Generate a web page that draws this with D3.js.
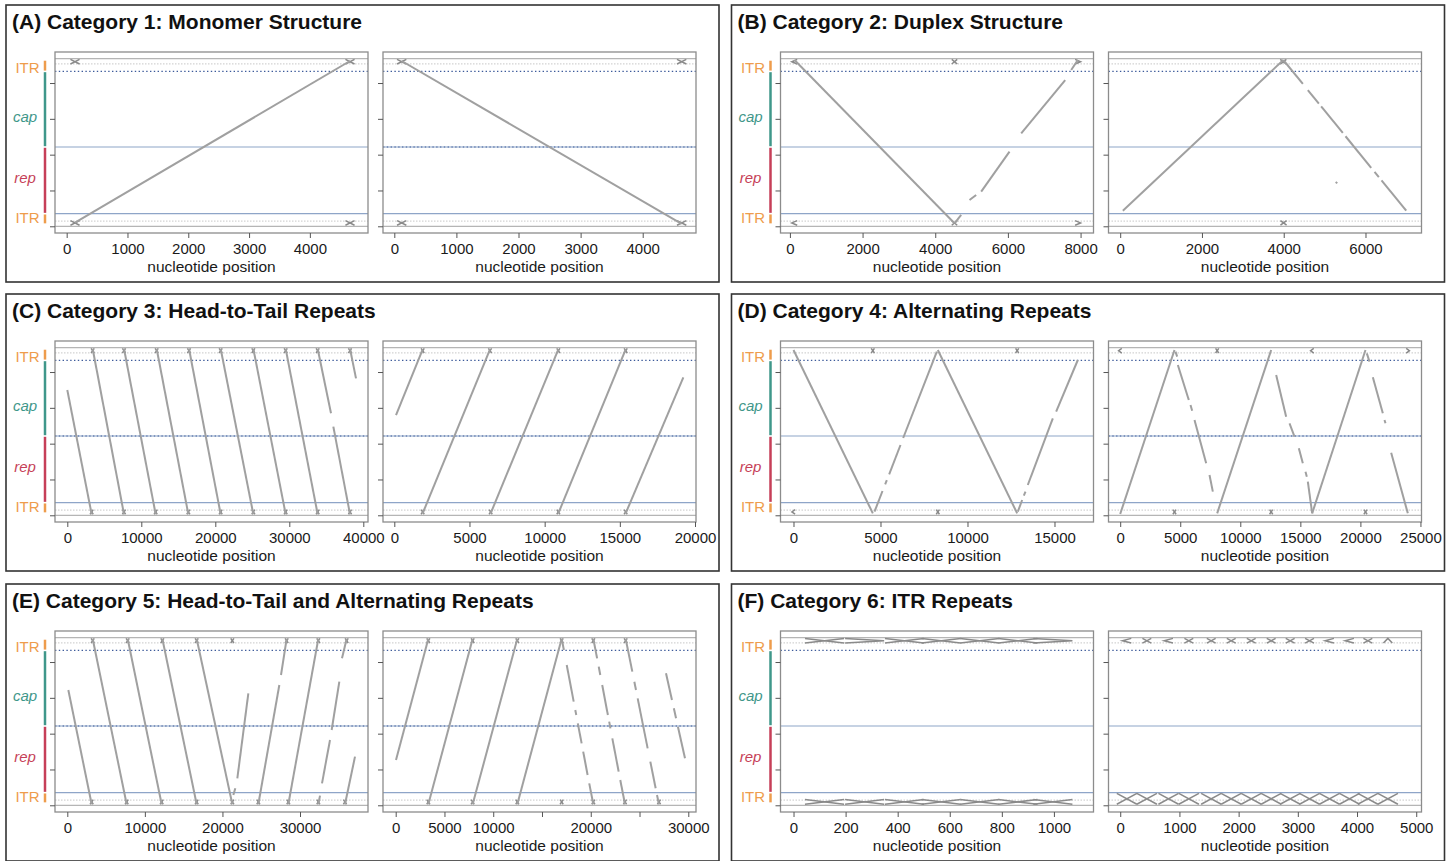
<!DOCTYPE html>
<html>
<head>
<meta charset="utf-8">
<script src="https://cdn.jsdelivr.net/npm/d3@7"></script>
<style>
  body { margin: 0; background: #fff; }
  svg { display: block; font-family: "Liberation Sans", Arial, sans-serif; }
</style>
</head>
<body>
<svg id="fig" width="1452" height="861"></svg>
<script>
var width = 1452,
    height = 861;

// reference genome (AAV vector), y axis of every dot plot
var refLen = 4679;
var refTicks = [0, 1000, 2000, 3000, 4000];
var grayLines = [0, 4679];          // ends of the reference
var itrBounds = [145, 4534];        // inner ITR boundaries
var blueBottom = 353, blueMid = 2214, blueTop = 4325;

// left annotation bar
var annotNames = ["ITR", "rep", "cap", "ITR"];
var annotStart = [60, 353, 2214, 4325];
var annotEnd = [353, 2214, 4325, 4645];
var annotLabelRef = [232, 1348, 3051, 4419];

var panelTitles = [
  "(A) Category 1: Monomer Structure",
  "(B) Category 2: Duplex Structure",
  "(C) Category 3: Head-to-Tail Repeats",
  "(D) Category 4: Alternating Repeats",
  "(E) Category 5: Head-to-Tail and Alternating Repeats",
  "(F) Category 6: ITR Repeats"
];

// alignment segments: [read start, read end, ref start, ref end]
// ITR marks: read position, or [read position, shape]
var a1Segs = [[137, 4660, 100, 4615]];
var a1ItrTop = [137, 4660], a1ItrBot = [137, 4660];
var a2Segs = [[119, 4627, 4615, 70]];
var a2ItrTop = [119, 4627], a2ItrBot = [119, 4627];

var b1Segs = [[126, 4530, 4643, 83], [4530, 4714, 83, 316], [4943, 5127, 734, 874],
  [5265, 6044, 967, 2083], [6366, 7577, 2595, 4084], [7742, 7925, 4363, 4643]];
var b1ItrTop = [[126, "<"], 4530, [7925, ">"]], b1ItrBot = [[126, "<"], 4530, [7925, ">"]];
var b2Segs = [[65, 3990, 436, 4643], [3990, 4468, 4643, 3974], [4590, 4859, 3803, 3427],
  [4916, 5446, 3347, 2605], [5511, 6140, 2514, 1634], [6221, 6327, 1521, 1372],
  [6392, 6996, 1281, 436], [5270, 5310, 1235, 1200]];
var b2ItrTop = [3990], b2ItrBot = [3995];

var c1Segs = [[0, 3293, 3498, 30], [3428, 7662, 4650, 30], [7662, 11942, 4650, 30],
  [12077, 16356, 4650, 30], [16446, 20726, 4650, 30], [20726, 25140, 4650, 30],
  [25140, 29510, 4650, 30], [29510, 33834, 4650, 30], [33834, 35635, 4650, 2847],
  [35950, 38203, 2474, 30], [38203, 39014, 4650, 3824]];
var c1ItrTop = [3428, 7662, 12077, 16446, 20726, 25140, 29510, 33834, 38203];
var c1ItrBot = [3293, 7662, 11942, 16356, 20726, 25140, 29510, 33834, 38203];
var c2Segs = [[113, 1887, 2800, 4634], [1887, 6365, 55, 4634], [6410, 10910, 55, 4634],
  [10910, 15389, 55, 4634], [15389, 19224, 55, 3852]];
var c2ItrTop = [1887, 6365, 10910, 15389], c2ItrBot = [1887, 6410, 10910, 15389];

var d1Segs = [[0, 4559, 4615, 55], [4655, 5115, 101, 678], [5268, 5364, 865, 985],
  [5498, 6149, 1144, 1963], [6303, 8238, 2158, 4568], [8295, 12855, 4615, 55],
  [12893, 13142, 101, 427], [13238, 13333, 548, 660], [13467, 14904, 846, 2707],
  [15096, 16341, 2893, 4336]];
var d1ItrTop = [4559, 12855], d1ItrBot = [[0, "<"], 8295];
var d2Segs = [[0, 4521, 36, 4615], [4604, 4743, 4568, 4429], [4799, 5714, 4196, 3219],
  [5853, 5993, 3079, 2921], [6187, 7158, 2661, 1451], [7436, 7713, 1125, 660],
  [8074, 12570, 55, 4615], [12986, 13819, 3917, 2754], [14097, 14513, 2568, 2195],
  [14874, 15207, 1870, 1451], [15429, 15540, 1218, 1079], [15624, 15985, 939, 55],
  [15985, 20425, 55, 4615], [20536, 20758, 4522, 4289], [21036, 21868, 3852, 2847],
  [22007, 22090, 2661, 2568], [22562, 23949, 1749, 55]];
var d2ItrTop = [[0, "<"], 8074, [15985, "<"], [23949, ">"]], d2ItrBot = [4521, 12570, 20425];

var e1Segs = [[133, 3142, 3219, 30], [3271, 7654, 4650, 30], [7783, 12166, 4650, 30],
  [12252, 16678, 4650, 30], [16678, 21275, 4650, 30], [21404, 21662, 288, 474],
  [21920, 23338, 753, 3126], [24627, 27334, 30, 3358], [27549, 28280, 3638, 4650],
  [28494, 32362, 30, 4650], [32362, 32577, 30, 269], [32835, 33866, 613, 1823],
  [34081, 35069, 2102, 3451], [35413, 36015, 4103, 4650], [35800, 37089, 30, 1358]];
var e1ItrTop = [3271, 7783, 12252, 16678, 21275, 28280, 32362, 36015];
var e1ItrBot = [3142, 7654, 12166, 16678, 21275, 24627, 28494, 32362, 35800];
var e2Segs = [[31, 3346, 1265, 4650], [3346, 7892, 30, 4650], [7892, 12471, 30, 4650],
  [12471, 17017, 30, 4650],
  [17017, 17246, 4650, 4336], [17536, 18251, 3917, 2893], [18415, 18514, 2661, 2521],
  [18674, 19064, 2288, 1730], [19225, 19679, 1497, 846], [19843, 20264, 613, 30],
  [20264, 20653, 4650, 4103], [20817, 20978, 3870, 3638], [21173, 21757, 3358, 2521],
  [21888, 22017, 2335, 2149], [22212, 22862, 1870, 939], [23026, 23511, 706, 30],
  [23579, 24262, 4650, 3731], [24468, 24639, 3451, 3219], [24810, 25835, 2986, 1590],
  [26108, 26655, 1218, 474], [26792, 26997, 288, 30],
  [27714, 28327, 3684, 2940], [28518, 28747, 2707, 2428], [28938, 29663, 2195, 1311]];
var e2ItrTop = [3346, 7892, 12471, 17017, 20264, 23579];
var e2ItrBot = [3346, 7892, 12471, 17017, 20264, 23511, 26997];

var f1Segs = [];
var f1ItrTop = [119, [273, ">"], 426, 567, 715, 862, [996, ">"]];
var f1ItrBot = [119, 273, 426, 567, 715, 862, 996];
var f2Segs = [];
var f2ItrTop = [[112, "<"], 450, [816, "<"], 1159, 1537, 1875, 2213, 2550, 2871, 3198,
  [3535, "<"], [3873, "<"], 4183, [4521, "^"]];
var f2ItrBot = [112, 450, 816, 1159, 1537, 1875, 2213, 2550, 2871, 3198, 3535, 3873, 4183, 4521];

// x tick values per plot
var ticksA = [0, 1000, 2000, 3000, 4000];
var ticksB1 = [0, 2000, 4000, 6000, 8000];
var ticksB2 = [0, 2000, 4000, 6000];
var ticksC1 = [0, 10000, 20000, 30000, 40000];
var ticksC2 = [0, 5000, 10000, 15000, 20000];
var ticksD1 = [0, 5000, 10000, 15000];
var ticksD2 = [0, 5000, 10000, 15000, 20000, 25000];
var ticksE1 = [0, 10000, 20000, 30000];
var ticksE2 = [0, 5000, 10000, 15000, 20000, 25000, 30000];
var labelsE2 = ["0", "5000", "10000", "", "20000", "", "30000"];
var ticksF1 = [0, 200, 400, 600, 800, 1000];
var ticksF2 = [0, 1000, 2000, 3000, 4000, 5000];

var plots = [
  { segs: a1Segs, top: a1ItrTop, bot: a1ItrBot, dom: [-192, 4956], ticks: ticksA, midDotted: false },
  { segs: a2Segs, top: a2ItrTop, bot: a2ItrBot, dom: [-182, 4858], ticks: ticksA, midDotted: true },
  { segs: b1Segs, top: b1ItrTop, bot: b1ItrBot, dom: [-259, 8356], ticks: ticksB1, midDotted: false },
  { segs: b2Segs, top: b2ItrTop, bot: b2ItrBot, dom: [-286, 7370], ticks: ticksB2, midDotted: false },
  { segs: c1Segs, top: c1ItrTop, bot: c1ItrBot, dom: [-1662, 40635], ticks: ticksC1, midDotted: true },
  { segs: c2Segs, top: c2ItrTop, bot: c2ItrBot, dom: [-752, 20066], ticks: ticksC2, midDotted: true },
  { segs: d1Segs, top: d1ItrTop, bot: d1ItrBot, dom: [-747, 17242], ticks: ticksD1, midDotted: false },
  { segs: d2Segs, top: d2ItrTop, bot: d2ItrBot, dom: [-974, 25088], ticks: ticksD2, midDotted: true },
  { segs: e1Segs, top: e1ItrTop, bot: e1ItrBot, dom: [-1586, 38765], ticks: ticksE1, midDotted: true },
  { segs: e2Segs, top: e2ItrTop, bot: e2ItrBot, dom: [-1302, 30791], ticks: ticksE2, labels: labelsE2, midDotted: true },
  { segs: f1Segs, top: f1ItrTop, bot: f1ItrBot, dom: [-50, 1152], ticks: ticksF1, midDotted: false },
  { segs: f2Segs, top: f2ItrTop, bot: f2ItrBot, dom: [-198, 5089], ticks: ticksF2, midDotted: false,
    botHw: 170, botBand: [30, 335] }
];

// layout
var boxW = 713, boxH = 277;
var boxX = [6, 731.5];
var boxY = [5, 294, 584];
var plotX = [[49, 362], [377, 690]];
var plotY = [47, 228];

var colITR = "#EE9C4C", colCap = "#3F978A", colRep = "#C63F58";
var annotColors = [colITR, colRep, colCap, colITR];
var lineGray = "#a0a0a0", markGray = "#8a8a8a";

var svg = d3.select("#fig");
svg.append("rect").attr("width", width).attr("height", height).attr("fill", "#fff");

// ITR alignment glyph, as polylines in data coords
function glyph(shape, c, hw, r0, r1) {
  var l = c - hw, r = c + hw, m = (r0 + r1) / 2;
  if (shape === "<") return [[[r, r1], [l, m], [r, r0]]];
  if (shape === ">") return [[[l, r1], [r, m], [l, r0]]];
  if (shape === "v") return [[[l, r1], [c, r0], [r, r1]]];
  if (shape === "^") return [[[l, r0], [c, r1], [r, r0]]];
  return [[[l, r0], [r, r1]], [[l, r1], [r, r0]]];
}

function drawPlot(g, p, x0, x1, y, id) {
  var x = d3.scaleLinear().domain(p.dom).range([x0, x1]);
  var yTop = y.range()[1], yBot = y.range()[0];

  g.append("clipPath").attr("id", "clip" + id)
    .append("rect").attr("x", x0).attr("y", yTop).attr("width", x1 - x0).attr("height", yBot - yTop);
  var inner = g.append("g").attr("clip-path", "url(#clip" + id + ")");

  inner.selectAll(".gl").data(grayLines).enter().append("line")
    .attr("x1", x0).attr("x2", x1).attr("y1", y).attr("y2", y)
    .attr("stroke", "#b5b5b5").attr("stroke-width", 1.3);
  inner.selectAll(".gd").data(itrBounds).enter().append("line")
    .attr("x1", x0).attr("x2", x1).attr("y1", y).attr("y2", y)
    .attr("stroke", "#c8c8c8").attr("stroke-width", 1).attr("stroke-dasharray", "1.5,1.5");
  inner.selectAll(".bl").data([blueBottom, blueMid]).enter().append("line")
    .attr("x1", x0).attr("x2", x1).attr("y1", y).attr("y2", y)
    .attr("stroke", "#8ea5c8").attr("stroke-width", 1.2);
  var dotted = p.midDotted ? [blueMid, blueTop] : [blueTop];
  inner.selectAll(".bd").data(dotted).enter().append("line")
    .attr("x1", x0).attr("x2", x1).attr("y1", y).attr("y2", y)
    .attr("stroke", "#3d5b9b").attr("stroke-width", 1.2).attr("stroke-dasharray", "1.4,2.4");

  // ITR marks
  var hw = 75;
  var line = d3.line().x(function (d) { return x(d[0]); }).y(function (d) { return y(d[1]); });
  var minHw = 1.6 / ((x1 - x0) / (p.dom[1] - p.dom[0]));
  function marks(list, band, h) {
    var paths = [];
    list.forEach(function (d) {
      var m = typeof d === "number" ? [d, "x"] : d;
      paths = paths.concat(glyph(m[1], m[0], Math.max(h, minHw), band[0], band[1]));
    });
    inner.append("g").selectAll("path").data(paths).enter().append("path")
      .attr("d", line).attr("fill", "none")
      .attr("stroke", markGray).attr("stroke-width", 1.5);
  }
  marks(p.top, [4530, 4660], hw);
  marks(p.bot, p.botBand || [30, 160], p.botHw || hw);

  // alignment segments
  inner.append("g").selectAll("line").data(p.segs).enter().append("line")
    .attr("x1", function (d) { return x(d[0]); })
    .attr("x2", function (d) { return x(d[1]); })
    .attr("y1", function (d) { return y(d[2]); })
    .attr("y2", function (d) { return y(d[3]); })
    .attr("stroke", lineGray).attr("stroke-width", 2);

  // frame
  g.append("rect").attr("x", x0).attr("y", yTop).attr("width", x1 - x0).attr("height", yBot - yTop)
    .attr("fill", "none").attr("stroke", "#8c8c8c").attr("stroke-width", 1.3);

  // axes
  var yAxis = g.append("g").attr("transform", "translate(" + x0 + ",0)")
    .call(d3.axisLeft(y).tickValues(refTicks).tickSize(5).tickFormat(""));
  yAxis.select(".domain").remove();
  yAxis.selectAll("line").attr("stroke", "#555");

  var xAxis = g.append("g").attr("transform", "translate(0," + yBot + ")")
    .call(d3.axisBottom(x).tickValues(p.ticks).tickSize(5).tickPadding(5)
      .tickFormat(function (d, i) { return p.labels ? p.labels[i] : d3.format("d")(d); }));
  xAxis.select(".domain").remove();
  xAxis.selectAll("line").attr("stroke", "#555");
  xAxis.attr("font-family", "Liberation Sans, Arial, sans-serif").attr("font-size", 15);
  xAxis.selectAll("text").attr("fill", "#1a1a1a");

  g.append("text")
    .attr("x", (x0 + x1) / 2).attr("y", yBot + 39)
    .attr("text-anchor", "middle").attr("font-size", 15.5).attr("fill", "#1a1a1a")
    .text("nucleotide position");
}

panelTitles.forEach(function (title, k) {
  var col = k % 2, row = Math.floor(k / 2);
  var bx = boxX[col], by = boxY[row];
  var g = svg.append("g").attr("class", "panel");

  g.append("rect")
    .attr("x", bx).attr("y", by).attr("width", boxW).attr("height", boxH)
    .attr("fill", "none").attr("stroke", "#333").attr("stroke-width", 1.6);
  g.append("text")
    .attr("x", bx + 6).attr("y", by + 23.5)
    .attr("font-size", 21).attr("font-weight", "bold").attr("fill", "#111")
    .text(title);

  var y = d3.scaleLinear()
    .domain([-refLen * 0.04, refLen * 1.04])
    .range([by + plotY[1], by + plotY[0]]);

  // annotation bar and labels
  g.selectAll(".annot").data(annotNames).enter().append("line")
    .attr("x1", bx + 39).attr("x2", bx + 39)
    .attr("y1", function (d, i) { return y(annotEnd[i]) + 0.8; })
    .attr("y2", function (d, i) { return y(annotStart[i]) - 0.8; })
    .attr("stroke", function (d, i) { return annotColors[i]; })
    .attr("stroke-width", 2.5);
  g.selectAll(".annotLabel").data(annotNames).enter().append("text")
    .attr("x", function (d) { return d === "ITR" ? bx + 21.5 : bx + 19; })
    .attr("y", function (d, i) { return y(annotLabelRef[i]); })
    .attr("dy", "0.35em")
    .attr("text-anchor", "middle").attr("font-size", 15)
    .attr("font-style", function (d) { return d === "ITR" ? "normal" : "italic"; })
    .attr("fill", function (d, i) { return annotColors[i]; })
    .text(function (d) { return d; });

  [0, 1].forEach(function (j) {
    drawPlot(g, plots[k * 2 + j], bx + plotX[j][0], bx + plotX[j][1], y, k * 2 + j);
  });
});
</script>
</body>
</html>
